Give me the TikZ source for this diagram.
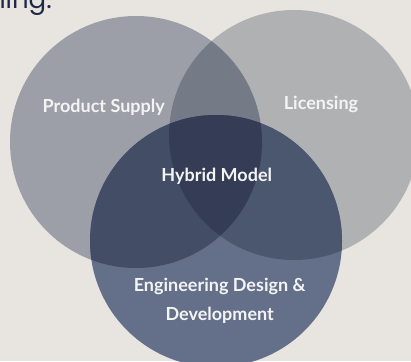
\documentclass[tikz,border=0pt]{standalone}
\usepackage{fontspec}
\setmainfont{Lato}
\newfontfamily\headfont{Poppins}
\usepackage{tikz}
\definecolor{bgbeige}{HTML}{E8E4DF}
\definecolor{headnavy}{HTML}{1E2847}
\definecolor{supplygray}{HTML}{9C9FA8}
\definecolor{licgray}{HTML}{B0B1B3}
\definecolor{engblue}{HTML}{647089}
\definecolor{suplic}{HTML}{757A87}
\definecolor{supeng}{HTML}{434D66}
\definecolor{liceng}{HTML}{4B566F}
\definecolor{hybridblue}{HTML}{343D55}
\definecolor{textwhite}{HTML}{F4F4F4}
\tikzset{
  venntext/.style ={text=textwhite, anchor=base, inner sep=0pt, align=center,
    font=\bfseries\fontsize{18}{28.3}\selectfont},
  headtext/.style ={text=headnavy, anchor=base east, inner sep=0pt,
    font=\headfont\fontsize{26}{30}\selectfont}
}
\def\supplycirc{(136,-142) circle (126pt)}
\def\liccirc{(294,-135) circle (125pt)}
\def\engcirc{(216,-241) circle (126pt)}

\begin{document}
\begin{tikzpicture}[x=1pt,y=1pt]
	\useasboundingbox (0,0) rectangle (411,-361);
	\fill[bgbeige] (0,0) rectangle (411,-361);
	\node[headtext] (heading) at (52,-8.3) {ning:};
	\fill[supplygray] \supplycirc;
	\fill[licgray] \liccirc;
	\fill[engblue] \engcirc;
	\begin{scope}
		\clip \supplycirc;
		\fill[suplic] \liccirc;
		\fill[supeng] \engcirc;
	\end{scope}
	\begin{scope}
		\clip \liccirc;
		\fill[liceng] \engcirc;
	\end{scope}
	\begin{scope}
		\clip \supplycirc;
		\clip \liccirc;
		\fill[hybridblue] \engcirc;
	\end{scope}
	\node[venntext] (supply) at (103.7,-112.7) {Product Supply};
	\node[venntext] (licensing) at (321,-109.3) {Licensing};
	\node[venntext] (hybrid) at (216.7,-181) {Hybrid Model};
	\node[venntext] (engineering) at (219.7,-320) {Engineering Design \&\\ Development};
\end{tikzpicture}
\end{document}
